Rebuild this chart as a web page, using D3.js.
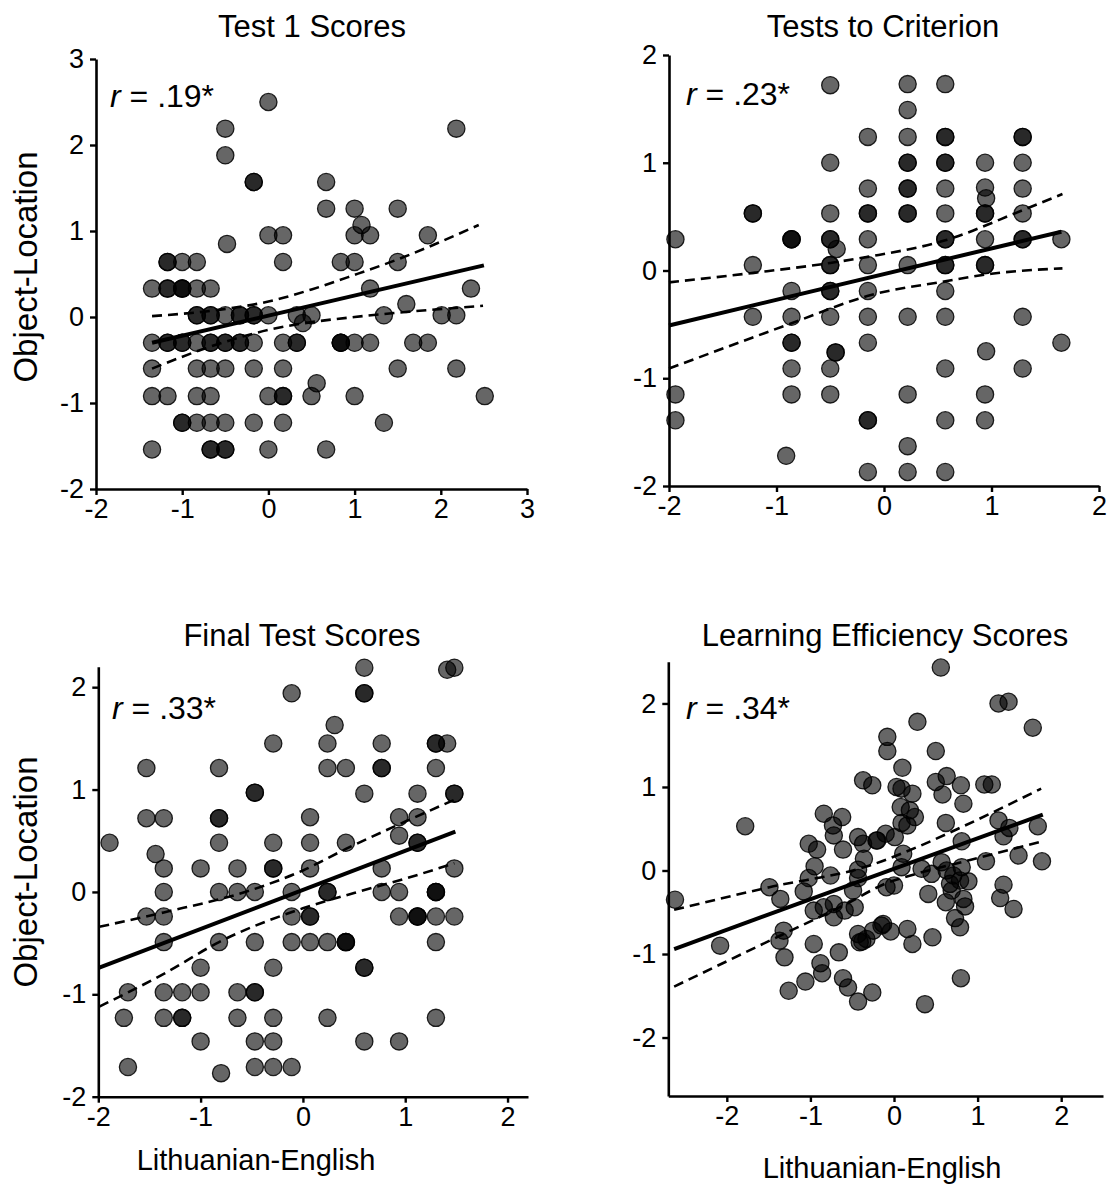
<!DOCTYPE html>
<html>
<head>
<meta charset="utf-8">
<script src="https://cdn.jsdelivr.net/npm/d3@7"></script>
<style>
  html, body { margin: 0; padding: 0; background: #fff; }
  svg { display: block; font-family: "Liberation Sans", Arial, Helvetica, sans-serif; }
</style>
</head>
<body>
<svg id="chart" width="1108" height="1186"></svg>
<script>
// ---------------- DATA ----------------
const panelTitles = ["Test 1 Scores", "Tests to Criterion", "Final Test Scores", "Learning Efficiency Scores"];
const rLabels = [".19*", ".23*", ".33*", ".34*"];
const xAxisLabel = "Lithuanian-English";
const yAxisLabel = "Object-Location";

const ticksTest1 = [-2, -1, 0, 1, 2, 3];
const ticksCriterion = [-2, -1, 0, 1, 2];
const ticksFinal = [-2, -1, 0, 1, 2];
const ticksEfficiency = [-2, -1, 0, 1, 2];

const pointsTest1 = [
  [0,2.5],
  [-0.5,2.19],[2.18,2.19],
  [-0.5,1.88],
  [-0.17,1.57],[-0.17,1.57],[0.67,1.57],
  [0.67,1.26],[1.0,1.26],[1.5,1.26],
  [1.08,1.07],
  [0,0.95],[0.17,0.95],[1.0,0.95],[1.18,0.95],[1.85,0.95],
  [-0.48,0.85],
  [-1.17,0.64],[-1.17,0.64],[-1.0,0.64],[-0.83,0.64],[0.17,0.64],[0.84,0.64],[1.0,0.64],[1.5,0.64],
  [-1.35,0.33],[-1.17,0.33],[-1.17,0.33],[-1.0,0.33],[-1.0,0.33],[-1.0,0.33],[-0.83,0.33],[-0.67,0.33],[1.18,0.33],[2.35,0.33],
  [1.6,0.15],
  [-0.83,0.02],[-0.83,0.02],[-0.67,0.02],[-0.67,0.02],[-0.5,0.02],[-0.33,0.02],[-0.33,0.02],[-0.17,0.02],[-0.17,0.02],[0,0.02],[0.33,0.02],[0.5,0.02],[1.34,0.02],[2.01,0.02],[2.18,0.02],
  [0.4,-0.07],
  [-1.35,-0.3],[-1.17,-0.3],[-1.17,-0.3],[-1.0,-0.3],[-1.0,-0.3],[-0.83,-0.3],[-0.67,-0.3],[-0.67,-0.3],[-0.5,-0.3],[-0.5,-0.3],[-0.33,-0.3],[-0.33,-0.3],[-0.17,-0.3],[0.17,-0.3],[0.33,-0.3],[0.33,-0.3],[0.84,-0.3],[0.84,-0.3],[0.84,-0.3],[1.0,-0.3],[1.18,-0.3],[1.68,-0.3],[1.85,-0.3],
  [-1.35,-0.6],[-0.83,-0.6],[-0.67,-0.6],[-0.5,-0.6],[-0.17,-0.6],[0.17,-0.6],[1.5,-0.6],[2.18,-0.6],
  [0.56,-0.77],
  [-1.35,-0.92],[-1.17,-0.92],[-0.83,-0.92],[-0.67,-0.92],[0,-0.92],[0.17,-0.92],[0.17,-0.92],[0.5,-0.92],[1.0,-0.92],[2.51,-0.92],
  [-1.0,-1.23],[-1.0,-1.23],[-0.83,-1.23],[-0.67,-1.23],[-0.5,-1.23],[-0.17,-1.23],[0.17,-1.23],[1.34,-1.23],
  [-1.35,-1.54],[-0.67,-1.54],[-0.67,-1.54],[-0.5,-1.54],[-0.5,-1.54],[0,-1.54],[0.67,-1.54]
];
const fitTest1 = [[-1.35,-0.30],[2.5,0.60]];
const upperTest1 = [[-1.35,0.01],[-0.6,0.08],[0,0.18],[0.5,0.32],[1.0,0.49],[1.5,0.67],[2.44,1.07]];
const lowerTest1 = [[-1.35,-0.60],[-0.6,-0.32],[0,-0.15],[0.5,-0.06],[1.0,0.0],[1.5,0.05],[2.49,0.13]];

const pointsCriterion = [
  [-0.5,1.72],[0.22,1.73],[0.57,1.73],
  [0.22,1.49],
  [-0.15,1.24],[0.22,1.24],[0.57,1.24],[0.57,1.24],[1.29,1.24],[1.29,1.24],
  [-0.5,1.0],[0.22,1.0],[0.22,1.0],[0.57,1.0],[0.57,1.0],[0.94,1.0],[1.29,1.0],
  [-0.15,0.76],[0.22,0.76],[0.22,0.76],[0.57,0.76],[0.94,0.77],[1.29,0.76],
  [0.95,0.67],
  [-1.22,0.53],[-1.22,0.53],[-0.5,0.53],[-0.15,0.53],[-0.15,0.53],[0.22,0.53],[0.22,0.53],[0.57,0.53],[0.94,0.53],[0.94,0.53],[1.29,0.53],
  [-1.94,0.29],[-0.86,0.29],[-0.86,0.29],[-0.86,0.29],[-0.5,0.29],[-0.5,0.29],[-0.15,0.29],[0.57,0.29],[0.57,0.29],[0.94,0.29],[1.29,0.29],[1.29,0.29],[1.65,0.29],
  [-0.44,0.2],
  [-1.22,0.05],[-0.5,0.05],[-0.5,0.05],[-0.15,0.05],[0.22,0.05],[0.57,0.05],[0.57,0.05],[0.94,0.05],[0.94,0.05],
  [-0.86,-0.19],[-0.5,-0.19],[-0.5,-0.19],[-0.15,-0.19],[0.57,-0.19],
  [-1.22,-0.43],[-0.86,-0.43],[-0.5,-0.43],[-0.15,-0.43],[0.22,-0.43],[0.57,-0.43],[1.29,-0.43],
  [-0.86,-0.67],[-0.86,-0.67],[-0.15,-0.67],[1.65,-0.67],
  [-0.45,-0.76],[-0.45,-0.76],
  [0.95,-0.75],
  [-0.86,-0.91],[-0.5,-0.91],[0.57,-0.91],[1.29,-0.91],
  [-1.94,-1.15],[-0.86,-1.15],[-0.5,-1.15],[0.22,-1.15],[0.94,-1.15],
  [-1.94,-1.39],[-0.15,-1.39],[-0.15,-1.39],[0.57,-1.39],[0.94,-1.39],
  [0.22,-1.63],
  [-0.91,-1.72],
  [-0.15,-1.87],[0.22,-1.87],[0.57,-1.87]
];
const fitCriterion = [[-2,-0.51],[1.65,0.36]];
const upperCriterion = [[-2,-0.11],[-1.2,-0.02],[-0.5,0.07],[-0.13,0.13],[0.57,0.28],[1.29,0.56],[1.66,0.71]];
const lowerCriterion = [[-2,-0.91],[-0.86,-0.49],[-0.13,-0.23],[0.57,-0.10],[1.0,-0.03],[1.66,0.02]];

const pointsFinal = [
  [-0.11,1.94],[0.6,1.94],[0.6,1.94],
  [0.6,2.19],[1.41,2.17],[1.48,2.19],
  [0.31,1.63],
  [-0.29,1.45],[0.24,1.45],[0.77,1.45],[1.3,1.45],[1.3,1.45],[1.41,1.45],
  [-1.53,1.21],[-0.82,1.21],[0.24,1.21],[0.42,1.21],[0.77,1.21],[0.77,1.21],[1.3,1.21],
  [-0.47,0.97],[-0.47,0.97],[0.6,0.96],[1.12,0.96],[1.48,0.96],[1.48,0.96],
  [-1.53,0.72],[-1.36,0.72],[-0.82,0.72],[-0.82,0.72],[0.07,0.73],[0.94,0.73],[1.12,0.73],
  [0.94,0.55],
  [-1.89,0.48],[-0.82,0.48],[-0.29,0.48],[0.07,0.48],[0.42,0.48],[1.12,0.48],[1.12,0.48],
  [-1.44,0.37],
  [-1.36,0.23],[-1.0,0.23],[-0.64,0.23],[-0.29,0.23],[-0.29,0.23],[0.07,0.23],[0.77,0.23],[1.48,0.23],
  [-1.36,0],[-0.82,0],[-0.64,0],[-0.47,0],[-0.11,0],[0.24,0],[0.24,0],[0.77,0],[0.94,0],[1.3,0],[1.3,0],[1.3,0],
  [-1.53,-0.24],[-1.36,-0.24],[-0.11,-0.24],[0.07,-0.24],[0.07,-0.24],[0.94,-0.24],[1.12,-0.24],[1.12,-0.24],[1.12,-0.24],[1.3,-0.24],[1.48,-0.24],
  [-1.36,-0.49],[-0.82,-0.49],[-0.47,-0.49],[-0.11,-0.49],[0.07,-0.49],[0.24,-0.49],[0.42,-0.49],[0.42,-0.49],[0.42,-0.49],[1.3,-0.49],
  [-1.0,-0.74],[-0.29,-0.74],[0.6,-0.74],[0.6,-0.74],
  [-1.71,-0.98],[-1.36,-0.98],[-1.18,-0.98],[-1.0,-0.98],[-0.64,-0.98],[-0.47,-0.98],[-0.47,-0.98],
  [-1.75,-1.23],[-1.36,-1.23],[-1.18,-1.23],[-1.18,-1.23],[-0.64,-1.23],[-0.29,-1.23],[0.24,-1.23],[1.3,-1.23],
  [-1.0,-1.46],[-0.47,-1.46],[-0.29,-1.46],[0.6,-1.46],[0.94,-1.46],
  [-1.71,-1.71],[-0.47,-1.71],[-0.29,-1.71],[-0.11,-1.71],
  [-0.8,-1.77]
];
const fitFinal = [[-1.99,-0.74],[1.49,0.59]];
const upperFinal = [[-1.99,-0.34],[-1.36,-0.2],[-0.47,0.03],[0,0.21],[0.42,0.42],[0.94,0.66],[1.48,0.9]];
const lowerFinal = [[-1.99,-1.12],[-1.36,-0.8],[-0.82,-0.49],[0,-0.16],[0.5,-0.01],[1.0,0.13],[1.48,0.28]];

const pointsEfficiency = [
  [-2.62,-0.35],[-1.78,0.53],[-2.08,-0.9],[-1.49,-0.2],[-1.36,-0.34],[-1.32,-0.72],[-1.37,-0.84],[-1.31,-1.04],[-1.26,-1.44],[-1.06,-1.33],
  [-1.02,0.32],[-0.92,0.25],[-0.95,0.05],[-1.02,-0.09],[-1.08,-0.25],[-0.96,-0.48],
  [-0.84,0.68],[-0.73,0.54],[-0.62,0.64],[-0.72,0.42],[-0.61,0.25],[-0.76,-0.06],[-0.84,-0.44],[-0.72,-0.56],[-0.72,-0.4],[-0.59,-0.48],[-0.47,-0.44],
  [-0.96,-0.88],[-0.88,-1.11],[-0.86,-1.23],[-0.66,-0.98],[-0.61,-1.29],[-0.55,-1.4],[-0.43,-1.57],[-0.26,-1.46],
  [-0.37,1.08],[-0.26,1.02],[-0.08,1.6],[-0.08,1.43],
  [-0.43,0.4],[-0.37,0.32],[-0.36,0.14],[-0.43,0.01],[-0.43,-0.09],[-0.49,-0.24],[-0.21,0.36],
  [-0.43,-0.76],[-0.41,-0.86],[-0.33,-0.82],[-0.25,-0.72],[-0.15,-0.66],[-0.38,-0.85],
  [0.56,2.43],[1.25,2.0],[1.37,2.02],[1.66,1.71],[0.28,1.78],[0.5,1.43],[0.1,1.23],
  [0.03,1.0],[0.09,0.98],[0.22,0.92],[0.5,1.06],[0.63,1.13],[0.58,0.91],[0.8,1.02],[0.83,0.8],[1.08,1.03],[1.17,1.03],
  [0.08,0.76],[0.19,0.72],[0.25,0.64],[0.09,0.57],[0.16,0.54],[0.62,0.57],[1.25,0.6],[1.38,0.51],[1.31,0.41],[1.72,0.53],[0.81,0.35],
  [-0.2,0.36],[-0.1,0.44],[0.01,0.4],[0.11,0.2],[0.09,0.04],[0.33,0.02],
  [0.45,-0.04],[0.57,0.1],[0.63,0],[0.71,-0.06],[0.67,-0.16],[0.79,-0.12],[0.89,-0.13],[0.81,0.04],
  [0.41,-0.28],[0.62,-0.38],[0.69,-0.24],[0.83,-0.34],[0.85,-0.43],[0.73,-0.57],[0.79,-0.68],
  [1.1,0.11],[1.49,0.18],[1.77,0.11],[1.31,-0.17],[1.27,-0.33],[1.43,-0.46],
  [-0.09,-0.2],[0.0,-0.18],[-0.13,-0.64],[-0.04,-0.73],[0.16,-0.7],[0.22,-0.88],[0.46,-0.8],[0.8,-1.29],[0.37,-1.6]
];
const fitEfficiency = [[-2.63,-0.94],[1.78,0.67]];
const upperEfficiency = [[-2.63,-0.47],[-1.49,-0.2],[-0.29,0.06],[0.3,0.29],[0.81,0.52],[1.76,0.98]];
const lowerEfficiency = [[-2.63,-1.39],[-1.32,-0.76],[-0.57,-0.4],[-0.11,-0.16],[0.3,-0.03],[0.81,0.1],[1.78,0.35]];

// ---------------- LAYOUT ----------------
const panels = [
  { title: panelTitles[0], r: rLabels[0], points: pointsTest1, fit: fitTest1, upper: upperTest1, lower: lowerTest1,
    xDom: [-2, 3], yDom: [-2, 3], xTicks: ticksTest1, yTicks: ticksTest1,
    x0: 96, x1: 527, y0: 489, y1: 59, titleX: 312, titleY: 37, rX: 110, rY: 107, yLabel: 267, xLabel: null },
  { title: panelTitles[1], r: rLabels[1], points: pointsCriterion, fit: fitCriterion, upper: upperCriterion, lower: lowerCriterion,
    xDom: [-2, 2], yDom: [-2, 2], xTicks: ticksCriterion, yTicks: ticksCriterion,
    x0: 669, x1: 1099, y0: 486, y1: 55, titleX: 883, titleY: 37, rX: 686, rY: 105, yLabel: null, xLabel: null },
  { title: panelTitles[2], r: rLabels[2], points: pointsFinal, fit: fitFinal, upper: upperFinal, lower: lowerFinal,
    xDom: [-2, 2.2], yDom: [-2, 2.2], xTicks: ticksFinal, yTicks: ticksFinal,
    x0: 98.3, x1: 528, y0: 1096.7, y1: 666.7, titleX: 302, titleY: 646, rX: 112, rY: 719, yLabel: 872, xLabel: 1170, xLabelX: 256 },
  { title: panelTitles[3], r: rLabels[3], points: pointsEfficiency, fit: fitEfficiency, upper: upperEfficiency, lower: lowerEfficiency,
    xDom: [-2.7, 2.5], yDom: [-2.7, 2.5], xTicks: ticksEfficiency, yTicks: ticksEfficiency,
    x0: 668.3, x1: 1103, y0: 1096, y1: 661.7, titleX: 885, titleY: 646, rX: 686, rY: 719, yLabel: null, xLabel: 1178, xLabelX: 882 }
];

const svg = d3.select("#chart");
const fmt = d => (d < 0 ? "-" + Math.abs(d) : String(d));

panels.forEach(p => {
  const x = d3.scaleLinear().domain(p.xDom).range([p.x0, p.x1]);
  const y = d3.scaleLinear().domain(p.yDom).range([p.y0, p.y1]);
  const g = svg.append("g");

  // axes
  const xAxis = g.append("g").attr("transform", `translate(0,${p.y0})`)
    .call(d3.axisBottom(x).tickValues(p.xTicks).tickFormat(fmt).tickSize(6).tickPadding(4).tickSizeOuter(0));
  const yAxis = g.append("g").attr("transform", `translate(${p.x0},0)`)
    .call(d3.axisLeft(y).tickValues(p.yTicks).tickFormat(fmt).tickSize(6).tickPadding(6).tickSizeOuter(0));
  [xAxis, yAxis].forEach(a => {
    a.select(".domain").attr("stroke", "#000").attr("stroke-width", 2.6);
    a.selectAll(".tick line").attr("stroke", "#000").attr("stroke-width", 2.4);
    a.selectAll(".tick text").attr("fill", "#000").attr("font-size", 27)
      .attr("font-family", "'Liberation Sans', Arial, sans-serif");
  });

  // points
  g.append("g").selectAll("circle").data(p.points).join("circle")
    .attr("cx", d => x(d[0])).attr("cy", d => y(d[1])).attr("r", 8.6)
    .attr("fill", "#000").attr("fill-opacity", 0.6)
    .attr("stroke", "#000").attr("stroke-opacity", 0.85).attr("stroke-width", 1.3);

  const line = d3.line().x(d => x(d[0])).y(d => y(d[1])).curve(d3.curveMonotoneX);
  g.append("path").attr("d", line(p.upper)).attr("fill", "none").attr("stroke", "#000")
    .attr("stroke-width", 2.6).attr("stroke-dasharray", "10,6");
  g.append("path").attr("d", line(p.lower)).attr("fill", "none").attr("stroke", "#000")
    .attr("stroke-width", 2.6).attr("stroke-dasharray", "10,6");
  g.append("path").attr("d", line(p.fit)).attr("fill", "none").attr("stroke", "#000")
    .attr("stroke-width", 4);

  // title
  g.append("text").attr("x", p.titleX).attr("y", p.titleY).attr("text-anchor", "middle")
    .attr("font-size", 31).attr("fill", "#000").text(p.title);

  // r label
  const rt = g.append("text").attr("x", p.rX).attr("y", p.rY).attr("font-size", 32).attr("fill", "#000");
  rt.append("tspan").attr("font-style", "italic").text("r");
  rt.append("tspan").text(" = " + p.r);

  if (p.yLabel !== null) {
    g.append("text").attr("transform", `translate(37,${p.yLabel}) rotate(-90)`)
      .attr("text-anchor", "middle").attr("font-size", 33).attr("fill", "#000").text(yAxisLabel);
  }
  if (p.xLabel !== null) {
    g.append("text").attr("x", p.xLabelX).attr("y", p.xLabel)
      .attr("text-anchor", "middle").attr("font-size", 29).attr("fill", "#000").text(xAxisLabel);
  }
});
</script>
</body>
</html>
